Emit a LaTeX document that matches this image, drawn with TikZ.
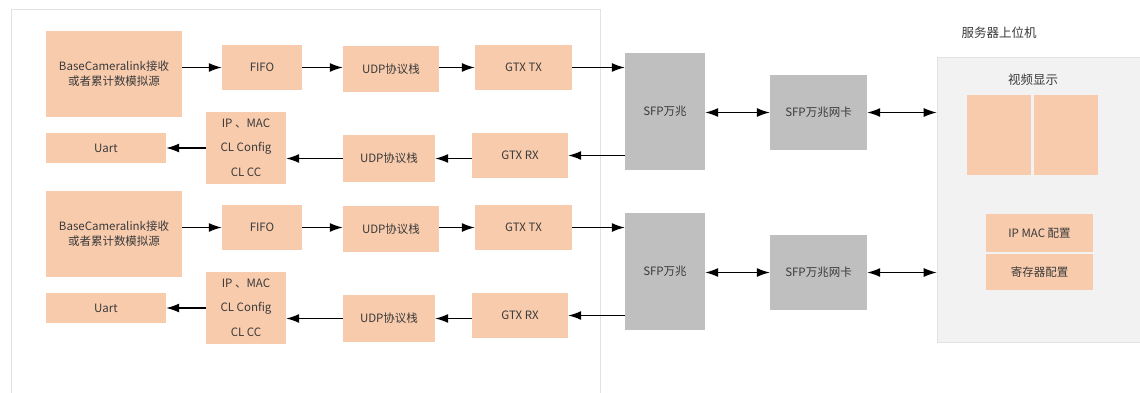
\documentclass[tikz,border=0pt]{standalone}
\usepackage{fontspec}
\setmainfont{Noto Sans CJK SC}
\usetikzlibrary{arrows.meta}
\definecolor{org}{HTML}{F8CBAD}
\definecolor{gbox}{HTML}{BFBFBF}
\definecolor{srvbg}{HTML}{F2F2F2}
\definecolor{frm}{HTML}{E2E2E2}
\definecolor{txt}{HTML}{3A3A3A}
\tikzset{
  ob/.style={fill=org, text=txt, inner sep=0pt, align=center, font=\fontsize{11.5}{15}\selectfont},
  gb/.style={fill=gbox, text=txt, inner sep=0pt, align=center, font=\fontsize{11.5}{15}\selectfont},
  arr/.style={line width=1.2pt, draw=black, -{Latex[length=13pt,width=9pt]}},
  darr/.style={line width=1.2pt, draw=black, {Latex[length=13pt,width=9pt]}-{Latex[length=13pt,width=9pt]}},
  lbl/.style={text=txt, inner sep=0pt, font=\fontsize{12.5}{15}\selectfont}
}
\begin{document}
\begin{tikzpicture}[x=1pt,y=-1pt]
\useasboundingbox (0,0) rectangle (1140,393);
\fill[white] (0,0) rectangle (1140,393);
% outer left frame
\draw[frm, line width=1pt] (11,393) -- (11,10) -- (600,10) -- (600,393);
% server frame
\node[fill=srvbg, draw=frm, line width=0.6pt, minimum width=204pt, minimum height=285pt, inner sep=0pt] (srv) at (1039,199.5) {};
\node[lbl] (srvlbl) at (999,33) {服务器上位机};
\node[lbl] (vlbl) at (1033,80) {视频显示};
\node[ob, minimum width=64pt, minimum height=80pt] (v1) at (999,135) {};
\node[ob, minimum width=64pt, minimum height=80pt] (v2) at (1066,135) {};
\node[ob, minimum width=107pt, minimum height=38pt] (ipcfg) at (1039.5,233) {IP MAC 配置};
\node[ob, minimum width=107pt, minimum height=36pt] (regcfg) at (1039.5,272) {寄存器配置};

\foreach \i/\dy in {1/0,2/160}{
  \node[ob, minimum width=136pt, minimum height=86pt] (bc\i) at (114,74+\dy) {BaseCameralink接收\\或者累计数模拟源};
  \node[ob, minimum width=80pt, minimum height=45pt] (fifo\i) at (262,67.5+\dy) {FIFO};
  \node[ob, minimum width=96pt, minimum height=46pt] (udpt\i) at (391,69+\dy) {UDP协议栈};
  \node[ob, minimum width=97pt, minimum height=45pt] (tx\i) at (523.5,67.5+\dy) {GTX TX};
  \node[gb, minimum width=80pt, minimum height=117pt] (sfp\i) at (665,111.5+\dy) {SFP万兆};
  \node[ob, minimum width=96pt, minimum height=45pt] (rx\i) at (520,155.5+\dy) {GTX RX};
  \node[ob, minimum width=92pt, minimum height=47pt] (udpr\i) at (389,158.5+\dy) {UDP协议栈};
  \node[ob, minimum width=80pt, minimum height=23.2pt] (cfga\i) at (246,124+\dy) {IP 、MAC};
  \node[ob, minimum width=80pt, minimum height=23.2pt] (cfgb\i) at (246,148+\dy) {CL Config};
  \node[ob, minimum width=80pt, minimum height=23.2pt] (cfgc\i) at (246,172+\dy) {CL CC};
  \node[ob, minimum width=120pt, minimum height=30pt] (uart\i) at (106,148+\dy) {Uart};
  \node[gb, minimum width=97pt, minimum height=75pt] (nic\i) at (818.5,112.5+\dy) {SFP万兆网卡};
  \draw[arr] (bc\i.east |- fifo\i.west) -- (fifo\i.west);
  \draw[arr] (fifo\i.east) -- (udpt\i.west |- fifo\i.east);
  \draw[arr] (udpt\i.east |- tx\i.west) -- (tx\i.west);
  \draw[arr] (tx\i.east) -- (sfp\i.west |- tx\i.east);
  \draw[arr] (sfp\i.west |- rx\i.east) -- (rx\i.east);
  \draw[arr] (rx\i.west |- udpr\i.east) -- (udpr\i.east);
  \draw[arr] (udpr\i.west) -- (cfgb\i.east |- udpr\i.west);
  \draw[arr] (cfgb\i.west) -- (uart\i.east |- cfgb\i.west);
  \draw[darr] (sfp\i.east |- nic\i.west) -- (nic\i.west);
  \draw[darr] (nic\i.east) -- (srv.west |- nic\i.east);
}
\end{tikzpicture}
\end{document}
